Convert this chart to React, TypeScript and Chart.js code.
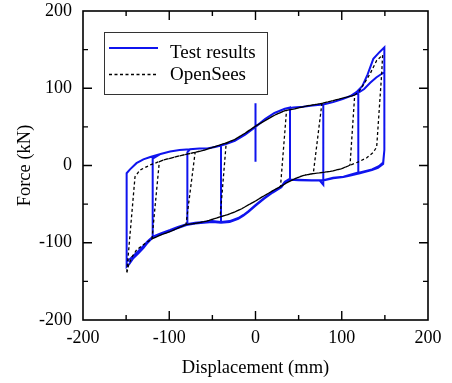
import React, { useEffect, useRef } from "react";
import { Chart, registerables } from "chart.js";

Chart.register(...registerables);

// Axis ranges and tick values
const xRange = [-200, 200];
const yRange = [-200, 200];
const majorTicks = [-200, -100, 0, 100, 200];
const minorTicks = [-150, -50, 50, 150];

const seriesLabels = ["Test results", "OpenSees"];
const axisTitles = { x: "Displacement (mm)", y: "Force (kN)" };

// Test results: displacement (mm), force (kN)
const testLoop: [number, number][] = [
  [0, 5], [0, 80.5], [0, 50],
  [11, 60], [22, 68], [34, 73.5], [40, 75],
  [40, -17],
  [34, -21], [30, -27], [20, -34], [10, -42], [0, -51], [-8, -59], [-14, -64], [-20, -68], [-30, -72], [-40, -73],
  [-40, 26],
  [-35, 27.5], [-24, 32], [-12, 40], [0, 50], [11, 60], [22, 68], [34, 73.5], [44, 75], [55, 76], [66, 77.5], [78.6, 79],
  [78.6, -25], [74, -19],
  [65, -19], [50, -18.5], [40, -18], [34, -21], [30, -27], [20, -34], [10, -42], [0, -51], [-8, -59], [-14, -64], [-20, -68], [-30, -72], [-40, -73], [-50, -72], [-60, -73], [-70, -74], [-79, -76],
  [-79, 17],
  [-76, 21], [-65, 22], [-56, 22], [-47, 24], [-40, 26], [-35, 27.5], [-24, 32], [-12, 40], [0, 50], [11, 60], [22, 68], [34, 73.5], [44, 75], [55, 76], [66, 77.5], [78.6, 79], [90, 82], [101, 86], [110, 90], [119.2, 94],
  [119.2, -9],
  [110, -12], [102, -14.5], [90, -16], [78.6, -19], [65, -19], [50, -18.5], [40, -18], [34, -21], [30, -27], [20, -34], [10, -42], [0, -51], [-8, -59], [-14, -64], [-20, -68], [-30, -72], [-40, -73], [-50, -72], [-60, -73], [-70, -74], [-80, -76], [-90, -79.5], [-99, -83.5], [-110, -88], [-119.2, -92],
  [-119.2, 9],
  [-110, 15], [-99, 18], [-88, 20], [-76, 21], [-65, 22], [-56, 22], [-47, 24], [-40, 26], [-35, 27.5], [-24, 32], [-12, 40], [0, 50], [11, 60], [22, 68], [34, 73.5], [44, 75], [55, 76], [66, 77.5], [78.6, 79], [90, 82], [101, 86], [110, 90], [119, 94], [126, 99], [133, 107], [140, 114], [149.4, 121],
  [149.4, 20], [148, 4], [143, -1], [135, -5], [121, -9],
  [110, -12], [102, -14.5], [90, -16], [78.6, -19], [65, -19], [50, -18.5], [40, -18], [34, -21], [30, -27], [20, -34], [10, -42], [0, -51], [-8, -59], [-14, -64], [-20, -68], [-30, -72], [-40, -73], [-50, -72], [-60, -73], [-70, -74], [-80, -76], [-90, -79.5], [-99, -83.5], [-110, -88], [-119, -92], [-125, -98], [-130, -104], [-136, -111], [-141.7, -117], [-147.5, -123], [-149.4, -125],
  [-149.4, -10],
  [-145.5, -5], [-138, 3], [-130, 8], [-122, 11], [-110, 15], [-99, 18], [-88, 20], [-76, 21], [-65, 22], [-56, 22], [-47, 24], [-40, 26], [-35, 27.5], [-24, 32], [-12, 40], [0, 50], [11, 60], [22, 68], [34, 73.5], [44, 75], [55, 76], [66, 77.5], [78.6, 79], [90, 82], [101, 86], [110, 90], [117, 95], [124, 103], [130, 118], [136.6, 138], [144, 147], [149.4, 153],
  [149.4, 20], [148, 2], [142, -3], [135, -6], [121, -10],
  [110, -13], [102, -15], [90, -16.5], [78.6, -19.5], [65, -19.5], [50, -19], [40, -18.5], [34, -22], [30, -28], [20, -35], [10, -43], [0, -52], [-8, -60], [-14, -65], [-20, -69], [-30, -73], [-40, -74], [-50, -73], [-60, -74], [-70, -75], [-80, -77], [-90, -81], [-99, -85], [-110, -89], [-119, -93], [-125, -100], [-130, -107], [-136, -114], [-141.7, -120], [-146, -127], [-149.4, -131],
  [-149.4, -12],
];

// OpenSees model: displacement (mm), force (kN)
const simLoop: [number, number][] = [
  [0, 51], [11, 58], [22.6, 65.4], [34.2, 71], [36, 71.5],
  [29, -27],
  [22.6, -31], [15, -36], [7.2, -41], [0, -46], [-8.3, -51], [-16, -56], [-23.8, -60], [-32, -63.5], [-41, -66.5],
  [-34, 28.5],
  [-23.8, 33.9], [-12.2, 41.7], [0, 51], [11, 58], [22.6, 65.4], [34.2, 71], [44, 73], [59, 77], [77, 80.5],
  [67, -10.5],
  [55, -13], [46, -17], [36, -22.5], [28, -28], [22.6, -31], [15, -36], [7.2, -41], [0, -46], [-8.3, -51], [-16, -56], [-23.8, -60], [-32, -63.5], [-41, -66.5], [-56.6, -72], [-70, -75], [-80.6, -76.5],
  [-70, 17],
  [-60.5, 19.5], [-47, 24.5], [-35.4, 28.7], [-23.8, 33.9], [-12.2, 41.7], [0, 51], [11, 58], [22.6, 65.4], [34.2, 71], [44, 73], [59, 77], [77, 80.5], [90, 84], [100, 87], [115, 91],
  [109.6, 0.5],
  [100, -4], [90, -7], [78, -9], [67, -10.5], [55, -13], [46, -17], [36, -22.5], [28, -28], [22.6, -31], [15, -36], [7.2, -41], [0, -46], [-8.3, -51], [-16, -56], [-23.8, -60], [-32, -63.5], [-41, -66.5], [-56.6, -72], [-70, -75], [-80.6, -76.5], [-90, -81], [-99, -85.5], [-110, -90], [-120, -95],
  [-111.5, 5],
  [-107, 7], [-95, 10.5], [-83.7, 13.6], [-70, 17], [-60.5, 19.5], [-47, 24.5], [-35.4, 28.7], [-23.8, 33.9], [-12.2, 41.7], [0, 51], [11, 58], [22.6, 65.4], [34.2, 71], [44, 73], [59, 77], [77, 80.5], [90, 84], [100, 87], [115, 91], [120, 96], [127, 108], [133, 119], [140.5, 136], [147.4, 143],
  [146.3, 119], [140.5, 24],
  [136.6, 17], [129, 10], [120, 5], [110, 0.5], [100, -4], [90, -7], [78, -9], [67, -10.5], [55, -13], [46, -17], [36, -22.5], [28, -28], [22.6, -31], [15, -36], [7.2, -41], [0, -46], [-8.3, -51], [-16, -56], [-23.8, -60], [-32, -63.5], [-41, -66.5], [-56.6, -72], [-70, -75], [-80.6, -76.5], [-90, -81], [-99, -85.5], [-110, -90], [-120, -95], [-128, -101], [-137.7, -109], [-143, -118], [-147, -128], [-149.4, -140],
  [-139.7, -14.5],
  [-134, -6], [-122.3, 0.6], [-107, 7], [-95, 10.5], [-83.7, 13.6], [-70, 17], [-60.5, 19.5], [-47, 24.5], [-35.4, 28.7], [-23.8, 33.9], [-12.2, 41.7], [0, 51],
];

const FONT = "'Liberation Serif', 'Times New Roman', serif";
const BLUE = "#0f14ee";

const framePlugin = {
  id: "frameTicks",
  afterDatasetsDraw(chart: any) {
    const { ctx, chartArea: a, scales } = chart;
    ctx.save();
    ctx.strokeStyle = "#000";
    ctx.lineWidth = 1.6;
    ctx.strokeRect(a.left, a.top, a.right - a.left, a.bottom - a.top);
    ctx.lineWidth = 1.4;
    ctx.beginPath();
    const all = [...majorTicks.map((v) => [v, 9]), ...minorTicks.map((v) => [v, 5])];
    for (const [v, len] of all) {
      if (v === xRange[0] || v === xRange[1]) continue;
      const px = scales.x.getPixelForValue(v);
      ctx.moveTo(px, a.bottom);
      ctx.lineTo(px, a.bottom - len);
      ctx.moveTo(px, a.top);
      ctx.lineTo(px, a.top + len);
    }
    for (const [v, len] of all) {
      if (v === yRange[0] || v === yRange[1]) continue;
      const py = scales.y.getPixelForValue(v);
      ctx.moveTo(a.left, py);
      ctx.lineTo(a.left + len, py);
      ctx.moveTo(a.right, py);
      ctx.lineTo(a.right - len, py);
    }
    ctx.stroke();
    ctx.restore();
  },
};

const legendPlugin = {
  id: "boxLegend",
  afterDraw(chart: any) {
    const { ctx } = chart;
    const ds = chart.data.datasets;
    ctx.save();
    ctx.strokeStyle = "#333";
    ctx.lineWidth = 1;
    ctx.strokeRect(104.5, 32.5, 163, 62);
    const rows = [
      { lineY: 48, textY: 57.5 },
      { lineY: 74.5, textY: 80 },
    ];
    ds.forEach((d: any, i: number) => {
      const r = rows[i];
      ctx.beginPath();
      ctx.strokeStyle = d.borderColor;
      ctx.lineWidth = i === 0 ? 1.8 : 1.3;
      ctx.setLineDash(d.borderDash || []);
      ctx.moveTo(109, r.lineY);
      ctx.lineTo(158, r.lineY);
      ctx.stroke();
      ctx.setLineDash([]);
      ctx.fillStyle = "#000";
      ctx.font = `19px ${FONT}`;
      ctx.textAlign = "left";
      ctx.textBaseline = "alphabetic";
      ctx.fillText(d.label, 170, r.textY);
    });
    ctx.restore();
  },
};

export default function App() {
  const ref = useRef<HTMLCanvasElement>(null);
  useEffect(() => {
    if (!ref.current) return;
    const chart = new Chart(ref.current, {
      type: "scatter",
      data: {
        datasets: [
          {
            label: seriesLabels[0],
            data: testLoop.map(([x, y]) => ({ x, y })),
            showLine: true,
            borderColor: BLUE,
            borderWidth: 2,
            pointRadius: 0,
            order: 1,
          },
          {
            label: seriesLabels[1],
            data: simLoop.map(([x, y]) => ({ x, y })),
            showLine: true,
            borderColor: "#000",
            borderWidth: 1.3,
            borderDash: [3, 2.5],
            pointRadius: 0,
            order: 0,
          },
        ],
      },
      options: {
        animation: false,
        responsive: true,
        maintainAspectRatio: false,
        layout: { padding: { top: 11, right: 24, left: 0, bottom: 0 } },
        plugins: { legend: { display: false }, tooltip: { enabled: false } },
        scales: {
          x: {
            type: "linear",
            min: xRange[0],
            max: xRange[1],
            afterFit: (s: any) => { s.height = 63; s.paddingLeft = 0; s.paddingRight = 0; },
            afterBuildTicks: (s: any) => { s.ticks = majorTicks.map((v) => ({ value: v })); },
            grid: { display: false, drawTicks: false },
            border: { display: false },
            ticks: { color: "#000", padding: 7, font: { family: FONT, size: 18 }, maxRotation: 0 },
            title: { display: true, text: axisTitles.x, color: "#000", font: { family: FONT, size: 18.5 }, padding: { top: 0, bottom: 4 } },
          },
          y: {
            type: "linear",
            min: yRange[0],
            max: yRange[1],
            afterFit: (s: any) => { s.width = 83; s.paddingTop = 0; s.paddingBottom = 0; },
            afterBuildTicks: (s: any) => { s.ticks = majorTicks.map((v) => ({ value: v })); },
            grid: { display: false, drawTicks: false },
            border: { display: false },
            ticks: { color: "#000", padding: 11, font: { family: FONT, size: 18 } },
            title: { display: true, text: axisTitles.y, color: "#000", font: { family: FONT, size: 18.5 }, padding: { top: 14, bottom: 0 } },
          },
        },
      },
      plugins: [framePlugin, legendPlugin],
    } as any);
    return () => chart.destroy();
  }, []);
  return (
    <div style={{ position: "fixed", left: 0, top: 0, width: 452, height: 383, background: "#fff" }}>
      <canvas ref={ref} />
    </div>
  );
}
